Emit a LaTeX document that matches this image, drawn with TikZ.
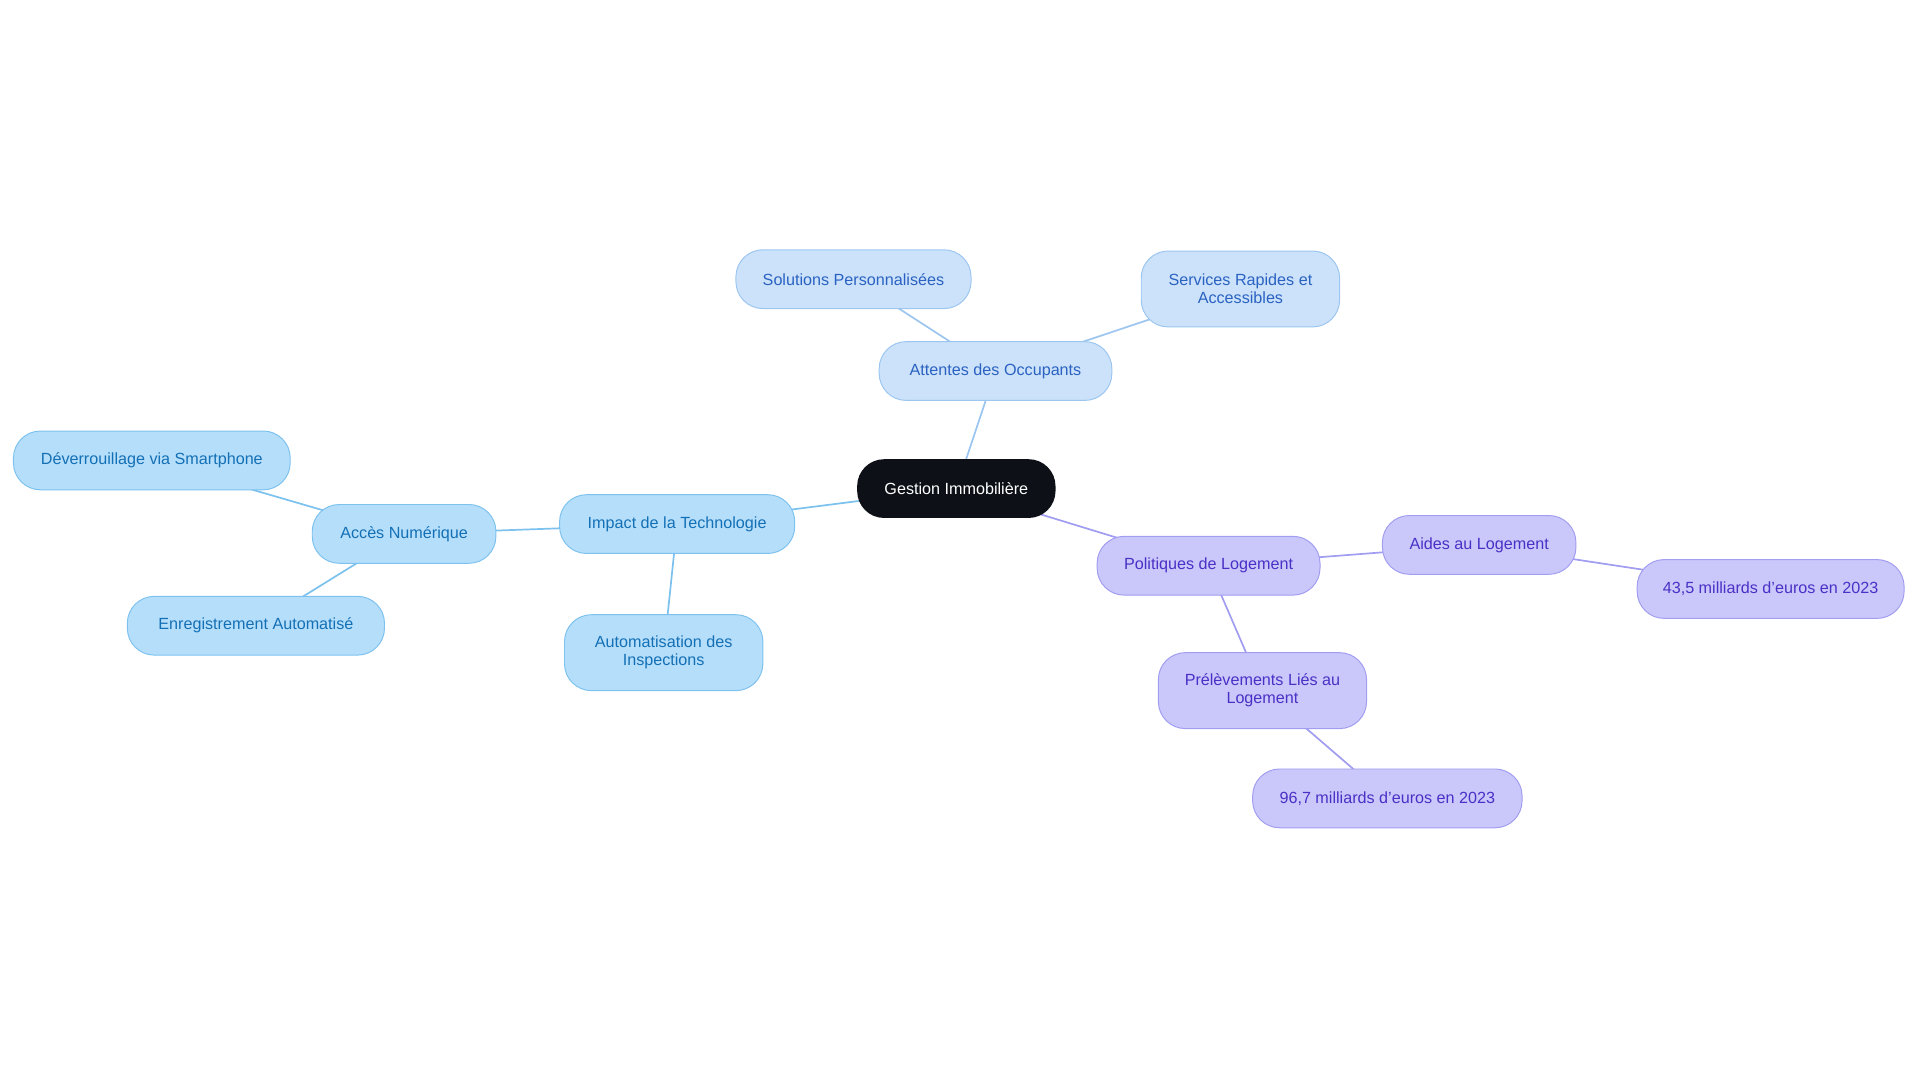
\documentclass[tikz,border=0pt]{standalone}
\usepackage{fontspec}
\setmainfont{Liberation Sans}
\usetikzlibrary{backgrounds}
\definecolor{rootfill}{HTML}{0D1117}
\definecolor{bluefill}{HTML}{B5DEFB}
\definecolor{blueline}{HTML}{7DC2EE}
\definecolor{bluetext}{HTML}{1470B5}
\definecolor{skyfill}{HTML}{CCE2FA}
\definecolor{skyline}{HTML}{9CC6F0}
\definecolor{skytext}{HTML}{2A62C2}
\definecolor{lilafill}{HTML}{CAC8FA}
\definecolor{lilaline}{HTML}{A19DF0}
\definecolor{lilatext}{HTML}{4A30C6}
\begin{document}
\begin{tikzpicture}[x=0.5pt,y=-0.5pt,font=\fontsize{6.6}{7.4}\selectfont,
  box/.style={rounded corners=11pt,minimum height=24pt,align=center,inner sep=2pt,line width=0.4pt},
  rootbox/.style={box,fill=rootfill,text=white},
  bluebox/.style={box,fill=bluefill,draw=blueline,text=bluetext},
  skybox/.style={box,fill=skyfill,draw=skyline,text=skytext},
  lilabox/.style={box,fill=lilafill,draw=lilaline,text=lilatext},
  blueedge/.style={draw=blueline,line width=0.7pt},
  skyedge/.style={draw=skyline,line width=0.7pt},
  lilaedge/.style={draw=lilaline,line width=0.7pt}]
\useasboundingbox (0,0) rectangle (1568,884);
\node[rootbox,minimum width=81pt] (root) at (781,399) {Gestion Immobilière};
\node[skybox,minimum width=95pt] (attentes) at (813,303) {Attentes des Occupants};
\node[skybox,minimum width=96pt] (solutions) at (697,228) {Solutions Personnalisées};
\node[skybox,minimum width=81pt,minimum height=31pt] (services) at (1013,236) {Services Rapides et\\Accessibles};
\node[bluebox,minimum width=96pt] (impact) at (553,428) {Impact de la Technologie};
\node[bluebox,minimum width=75pt] (acces) at (330,436) {Accès Numérique};
\node[bluebox,minimum width=113pt] (deverr) at (124,376) {Déverrouillage via Smartphone};
\node[bluebox,minimum width=105pt] (enreg) at (209,511) {Enregistrement Automatisé};
\node[bluebox,minimum width=81pt,minimum height=31pt] (autom) at (542,533) {Automatisation des\\Inspections};
\node[lilabox,minimum width=91pt] (politiques) at (987,462) {Politiques de Logement};
\node[lilabox,minimum width=79pt] (aides) at (1208,445) {Aides au Logement};
\node[lilabox,minimum width=109pt] (aidesval) at (1446,481) {43,5 milliards d'euros en 2023};
\node[lilabox,minimum width=85pt,minimum height=31pt] (prelev) at (1031,564) {Prélèvements Liés au\\Logement};
\node[lilabox,minimum width=110pt] (prelevval) at (1133,652) {96,7 milliards d'euros en 2023};
\begin{scope}[on background layer]
\draw[skyedge] (root.center) -- (attentes.center);
\draw[skyedge] (attentes.center) -- (solutions.center);
\draw[skyedge] (attentes.center) -- (services.center);
\draw[blueedge] (root.center) -- (impact.center);
\draw[blueedge] (impact.center) -- (acces.center);
\draw[blueedge] (acces.center) -- (deverr.center);
\draw[blueedge] (acces.center) -- (enreg.center);
\draw[blueedge] (impact.center) -- (autom.center);
\draw[lilaedge] (root.center) -- (politiques.center);
\draw[lilaedge] (politiques.center) -- (aides.center);
\draw[lilaedge] (aides.center) -- (aidesval.center);
\draw[lilaedge] (politiques.center) -- (prelev.center);
\draw[lilaedge] (prelev.center) -- (prelevval.center);
\end{scope}
\end{tikzpicture}
\end{document}
